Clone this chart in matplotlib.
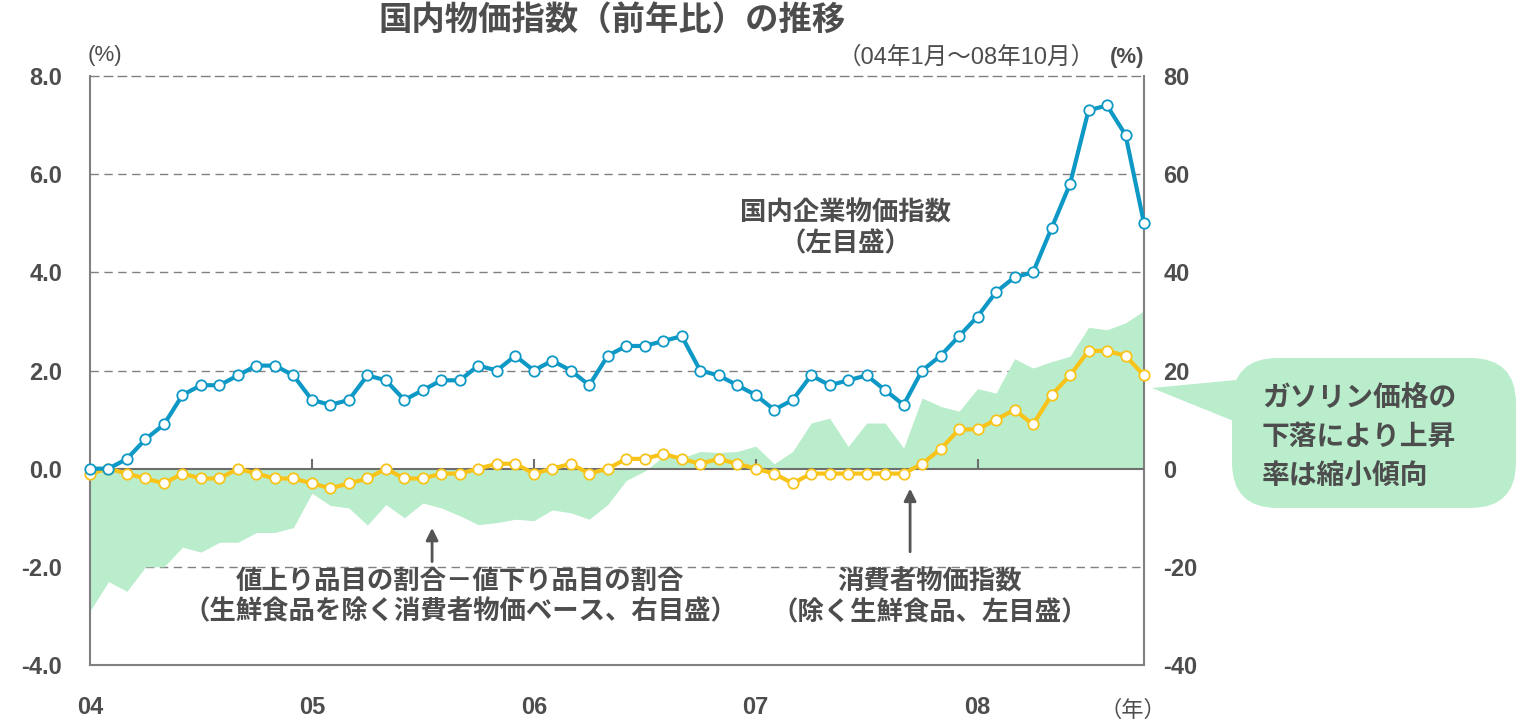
import matplotlib
matplotlib.use('Agg')
import matplotlib.pyplot as plt
import matplotlib.patches as patches
import numpy as np

plt.rcParams['font.family'] = ['Liberation Sans', 'Noto Sans CJK JP', 'DejaVu Sans']

# data: monthly, Jan 2004 - Oct 2008
cgpi = [0.0, 0.0, 0.2, 0.6, 0.9, 1.5, 1.7, 1.7, 1.9, 2.1, 2.1, 1.9,
        1.4, 1.3, 1.4, 1.9, 1.8, 1.4, 1.6, 1.8, 1.8, 2.1, 2.0, 2.3,
        2.0, 2.2, 2.0, 1.7, 2.3, 2.5, 2.5, 2.6, 2.7, 2.0, 1.9, 1.7,
        1.5, 1.2, 1.4, 1.9, 1.7, 1.8, 1.9, 1.6, 1.3, 2.0, 2.3, 2.7,
        3.1, 3.6, 3.9, 4.0, 4.9, 5.8, 7.3, 7.4, 6.8, 5.0]
core_cpi = [-0.1, 0.0, -0.1, -0.2, -0.3, -0.1, -0.2, -0.2, 0.0, -0.1, -0.2, -0.2,
            -0.3, -0.4, -0.3, -0.2, 0.0, -0.2, -0.2, -0.1, -0.1, 0.0, 0.1, 0.1,
            -0.1, 0.0, 0.1, -0.1, 0.0, 0.2, 0.2, 0.3, 0.2, 0.1, 0.2, 0.1,
            0.0, -0.1, -0.3, -0.1, -0.1, -0.1, -0.1, -0.1, -0.1, 0.1, 0.4, 0.8,
            0.8, 1.0, 1.2, 0.9, 1.5, 1.9, 2.4, 2.4, 2.3, 1.9]
up_minus_down = [-29, -23, -25, -20, -20, -16, -17, -15, -15, -13, -13, -12,
                 -5, -7.5, -8, -11.5, -7.3, -10, -7, -8, -9.6, -11.4, -11, -10.3,
                 -10.6, -8.4, -9, -10.3, -7.3, -2.4, -0.5, 2.5, 2.2, 3.5, 3.3, 3.5,
                 4.6, 1.0, 3.5, 9.3, 10.3, 4.5, 9.3, 9.3, 4.2, 14.4, 12.7, 11.7,
                 16.3, 15.4, 22.4, 20.5, 21.8, 22.9, 28.8, 28.3, 29.7, 32.2]
year_labels = ['04', '05', '06', '07', '08']
left_ticks = [8.0, 6.0, 4.0, 2.0, 0.0, -2.0, -4.0]
right_ticks = [80, 60, 40, 20, 0, -20, -40]

W, H = 1520, 726
BLUE = '#0E98C6'
YELLOW = '#F9C41A'
GREEN = '#B9EDCC'
TXT = '#4D4D4D'
GRID = '#808080'

fig = plt.figure(figsize=(W / 100, H / 100), dpi=100)
rect = [90 / W, 1 - 665 / H, (1144 - 90) / W, (665 - 76) / H]

# back axes: right scale, gridlines and area
ax2 = fig.add_axes(rect)
# front axes: left scale, lines
ax = fig.add_axes(rect)
ax.patch.set_visible(False)

x = np.arange(len(cgpi))
ax.set_xlim(0, len(cgpi) - 1)
ax2.set_xlim(0, len(cgpi) - 1)
ax.set_ylim(-4, 8)
ax2.set_ylim(-40, 80)

for t in right_ticks[1:]:
    if t != 0:
        ax2.axhline(t, color=GRID, lw=1, ls=(0, (6, 4)), zorder=0)
ax2.fill_between(x, 0, up_minus_down, color=GREEN, lw=0, zorder=1)
ax2.axhline(0, color='#6E6E6E', lw=1.5, zorder=3)

ax2.yaxis.tick_right()
ax2.set_yticks(right_ticks)
ax2.set_yticklabels([str(t) for t in right_ticks])
ax2.tick_params(axis='y', length=0, pad=14, labelsize=17, labelcolor=TXT)
for lbl in ax2.get_yticklabels():
    lbl.set_fontweight('bold')
ax2.set_xticks([])
for s in ['left', 'right', 'bottom']:
    ax2.spines[s].set_color(GRID)
    ax2.spines[s].set_linewidth(1.5)
ax2.spines['top'].set_linestyle((0, (6, 4)))
ax2.spines['top'].set_color(GRID)
ax2.spines['top'].set_linewidth(1)

# year tick marks on zero line
year_pos = [12 * i for i in range(len(year_labels))]
ax.vlines(year_pos[1:], 0, 0.2, color='#6E6E6E', lw=1.5, zorder=3)

ax.plot(x, core_cpi, color=YELLOW, lw=3, marker='o', ms=7.5,
        mfc='white', mec=YELLOW, mew=1.3, zorder=4, clip_on=False)
ax.plot(x, cgpi, color=BLUE, lw=3, marker='o', ms=7.5,
        mfc='white', mec=BLUE, mew=1.3, zorder=5, clip_on=False)

ax.set_yticks(left_ticks)
ax.set_yticklabels(['%.1f' % t for t in left_ticks])
ax.tick_params(axis='y', length=0, pad=20, labelsize=17, labelcolor=TXT)
for lbl in ax.get_yticklabels():
    lbl.set_fontweight('bold')
ax.set_xticks(year_pos)
ax.set_xticklabels(year_labels)
ax.tick_params(axis='x', length=0, pad=22, labelsize=17, labelcolor=TXT)
for lbl in ax.get_xticklabels():
    lbl.set_fontweight('bold')
for s in ax.spines.values():
    s.set_visible(False)


def ftext(px, py, s, **kw):
    fig.text(px / W, 1 - py / H, s, **kw)


ftext(612, 22, '国内物価指数（前年比）の推移', ha='center', va='center',
      fontsize=24, fontweight='bold', color=TXT)
ftext(105, 56, '(%)', ha='center', va='center', fontsize=16, color=TXT)
ftext(966, 57, '（04年1月～08年10月）', ha='center', va='center', fontsize=17, color=TXT)
ftext(1127, 58, '(%)', ha='center', va='center', fontsize=16, fontweight='bold', color=TXT)
ftext(1133, 711, '（年）', ha='center', va='center', fontsize=16, color=TXT)

ftext(845, 228, '国内企業物価指数\n（左目盛）', ha='center', va='center',
      fontsize=19, fontweight='bold', color=TXT, linespacing=1.25)
ftext(460, 597, '値上り品目の割合－値下り品目の割合\n（生鮮食品を除く消費者物価ベース、右目盛）',
      ha='center', va='center', fontsize=19, fontweight='bold', color=TXT, linespacing=1.25)
ftext(930, 597, '消費者物価指数\n（除く生鮮食品、左目盛）', ha='center', va='center',
      fontsize=19, fontweight='bold', color=TXT, linespacing=1.25)

# arrows
ax.annotate('', xy=(18.5, -1.15), xytext=(18.5, -1.95),
            arrowprops=dict(arrowstyle='-|>', color='#555555', lw=2, mutation_scale=18))
ax.annotate('', xy=(44.35, -0.35), xytext=(44.35, -1.75),
            arrowprops=dict(arrowstyle='-|>', color='#555555', lw=2, mutation_scale=18))

# callout bubble
bx0, by0, bx1, by1 = 1232, 358, 1516, 508
box = patches.FancyBboxPatch((bx0 / W, 1 - by1 / H), (bx1 - bx0) / W, (by1 - by0) / H,
                             boxstyle='round,pad=0,rounding_size=0.03',
                             transform=fig.transFigure, facecolor=GREEN,
                             edgecolor='none', mutation_aspect=W / H)
fig.patches.append(box)
tri = patches.Polygon([(1152 / W, 1 - 388 / H), (1236 / W, 1 - 380 / H),
                       (1236 / W, 1 - 422 / H)], closed=True,
                      transform=fig.transFigure, facecolor=GREEN, edgecolor='none')
fig.patches.append(tri)
ftext(1262, 438, 'ガソリン価格の\n下落により上昇\n率は縮小傾向', ha='left', va='center',
      fontsize=20, fontweight='bold', color=TXT, linespacing=1.65)

fig.savefig('out.png', dpi=100, facecolor='white')
